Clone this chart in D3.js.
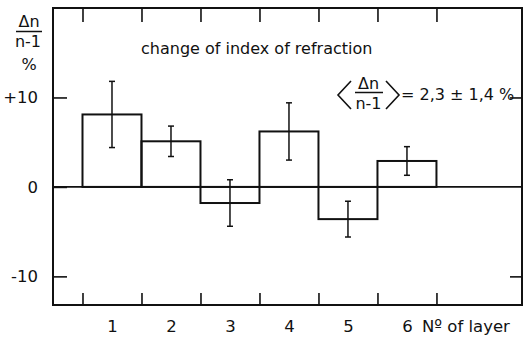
<!DOCTYPE html>
<html>
<head>
<meta charset="utf-8">
<script src="https://cdn.jsdelivr.net/npm/d3@7"></script>
<style>
  body { margin: 0; background: #fff; }
  svg { display: block; }
  text { font-family: "DejaVu Sans", sans-serif; fill: #111; }
</style>
</head>
<body>
<svg id="chart" width="532" height="339"></svg>
<script>
// Relative change of the index of refraction per layer, in percent
const layers = [1, 2, 3, 4, 5, 6];
const changes = [8.1, 5.1, -1.8, 6.2, -3.6, 2.9];
const errors = [3.7, 1.7, 2.6, 3.2, 2.0, 1.6];
const yTicks = [10, 0, -10];
const yTickLabels = ["+10", "0", "-10"];
const sideTicks = [10, -10];
const layerEdges = [0.5, 1.5, 2.5, 3.5, 4.5, 5.5, 6.5];
const xAxisTitle = "N\u00BA of layer";
const chartTitle = "change of index of refraction";
const meanText = "= 2,3 \u00B1 1,4 %";

const svg = d3.select("#chart");
const ink = "#111";
const frameL = 53, frameR = 522, frameT = 8, frameB = 305;

const x = d3.scaleLinear().domain([0, 7.95]).range([frameL, frameR]);
const y = d3.scaleLinear().domain([-13.2, 20]).range([frameB, frameT]);

const data = layers.map((n, i) => ({ n, v: changes[i], e: errors[i] }));

function styleAxis(g, fs) {
  g.select(".domain").remove();
  g.selectAll(".tick line").attr("stroke", ink).attr("stroke-width", 1.6);
  g.selectAll("text").attr("font-family", '"DejaVu Sans", sans-serif')
    .attr("font-size", fs).attr("fill", ink);
}

// zero line across the frame
svg.append("line")
  .attr("x1", frameL).attr("x2", frameR)
  .attr("y1", y(0)).attr("y2", y(0))
  .attr("stroke", ink).attr("stroke-width", 1.8);

// bars drawn as open outlines from zero to the value
svg.append("g").selectAll("rect").data(data).join("rect")
  .attr("x", d => x(d.n - 0.5))
  .attr("width", d => x(d.n + 0.5) - x(d.n - 0.5))
  .attr("y", d => y(Math.max(0, d.v)))
  .attr("height", d => Math.abs(y(d.v) - y(0)))
  .attr("fill", "none").attr("stroke", ink).attr("stroke-width", 2);

// error bars
const eb = svg.append("g").attr("stroke", ink).attr("stroke-width", 1.5);
eb.selectAll("line.v").data(data).join("line").attr("class", "v")
  .attr("x1", d => x(d.n)).attr("x2", d => x(d.n))
  .attr("y1", d => y(d.v + d.e)).attr("y2", d => y(d.v - d.e));
eb.selectAll("line.t").data(data).join("line").attr("class", "t")
  .attr("x1", d => x(d.n) - 3).attr("x2", d => x(d.n) + 3)
  .attr("y1", d => y(d.v + d.e)).attr("y2", d => y(d.v + d.e));
eb.selectAll("line.b").data(data).join("line").attr("class", "b")
  .attr("x1", d => x(d.n) - 3).attr("x2", d => x(d.n) + 3)
  .attr("y1", d => y(d.v - d.e)).attr("y2", d => y(d.v - d.e));

// frame
svg.append("rect")
  .attr("x", frameL).attr("y", frameT)
  .attr("width", frameR - frameL).attr("height", frameB - frameT)
  .attr("fill", "none").attr("stroke", ink).attr("stroke-width", 2);

// left axis with labels, ticks pointing inward
svg.append("g").attr("transform", `translate(${frameL},0)`)
  .call(d3.axisLeft(y).tickValues(yTicks).tickSize(-14).tickPadding(15)
    .tickFormat((d, i) => yTickLabels[i]))
  .call(g => styleAxis(g, 16.5));

// right axis ticks
svg.append("g").attr("transform", `translate(${frameR},0)`)
  .call(d3.axisRight(y).tickValues(sideTicks).tickSize(-12).tickFormat(""))
  .call(g => styleAxis(g, 16));

// top and bottom ticks at the layer boundaries
svg.append("g").attr("transform", `translate(0,${frameT})`)
  .call(d3.axisTop(x).tickValues(layerEdges).tickSize(-14).tickFormat(""))
  .call(g => styleAxis(g, 16));
svg.append("g").attr("transform", `translate(0,${frameB})`)
  .call(d3.axisBottom(x).tickValues(layerEdges).tickSize(-12).tickFormat(""))
  .call(g => styleAxis(g, 16));

// layer numbers
svg.append("g").attr("transform", `translate(0,${frameB})`)
  .call(d3.axisBottom(x).tickValues(layers).tickSize(0).tickPadding(15)
    .tickFormat(d3.format("d")))
  .call(g => styleAxis(g, 16.5));

svg.append("text")
  .attr("x", 422).attr("y", frameB + 15).attr("dy", "0.71em")
  .attr("font-size", 16.5).text(xAxisTitle);

// y axis title: Δn / (n-1), in %
const yl = svg.append("g");
yl.append("text").attr("x", 29).attr("y", 27).attr("text-anchor", "middle")
  .attr("font-size", 16).text("\u0394n");
yl.append("line").attr("x1", 16).attr("x2", 42).attr("y1", 31.5).attr("y2", 31.5)
  .attr("stroke", ink).attr("stroke-width", 1.5);
yl.append("text").attr("x", 28).attr("y", 47).attr("text-anchor", "middle")
  .attr("font-size", 16).text("n-1");
yl.append("text").attr("x", 29).attr("y", 70).attr("text-anchor", "middle")
  .attr("font-size", 16).text("%");

// title inside the frame
svg.append("text").attr("x", 141).attr("y", 54)
  .attr("font-size", 16).text(chartTitle);

// mean value with angle brackets
const mv = svg.append("g");
mv.append("path").attr("d", "M351,81 L338,95 L351,109")
  .attr("fill", "none").attr("stroke", ink).attr("stroke-width", 1.6);
mv.append("path").attr("d", "M386,81 L399,95 L386,109")
  .attr("fill", "none").attr("stroke", ink).attr("stroke-width", 1.6);
mv.append("text").attr("x", 368.5).attr("y", 89).attr("text-anchor", "middle")
  .attr("font-size", 16).text("\u0394n");
mv.append("line").attr("x1", 355).attr("x2", 383).attr("y1", 92.5).attr("y2", 92.5)
  .attr("stroke", ink).attr("stroke-width", 1.5);
mv.append("text").attr("x", 368.5).attr("y", 109).attr("text-anchor", "middle")
  .attr("font-size", 16).text("n-1");
mv.append("text").attr("x", 401).attr("y", 100)
  .attr("font-size", 16).text(meanText);
</script>
</body>
</html>
